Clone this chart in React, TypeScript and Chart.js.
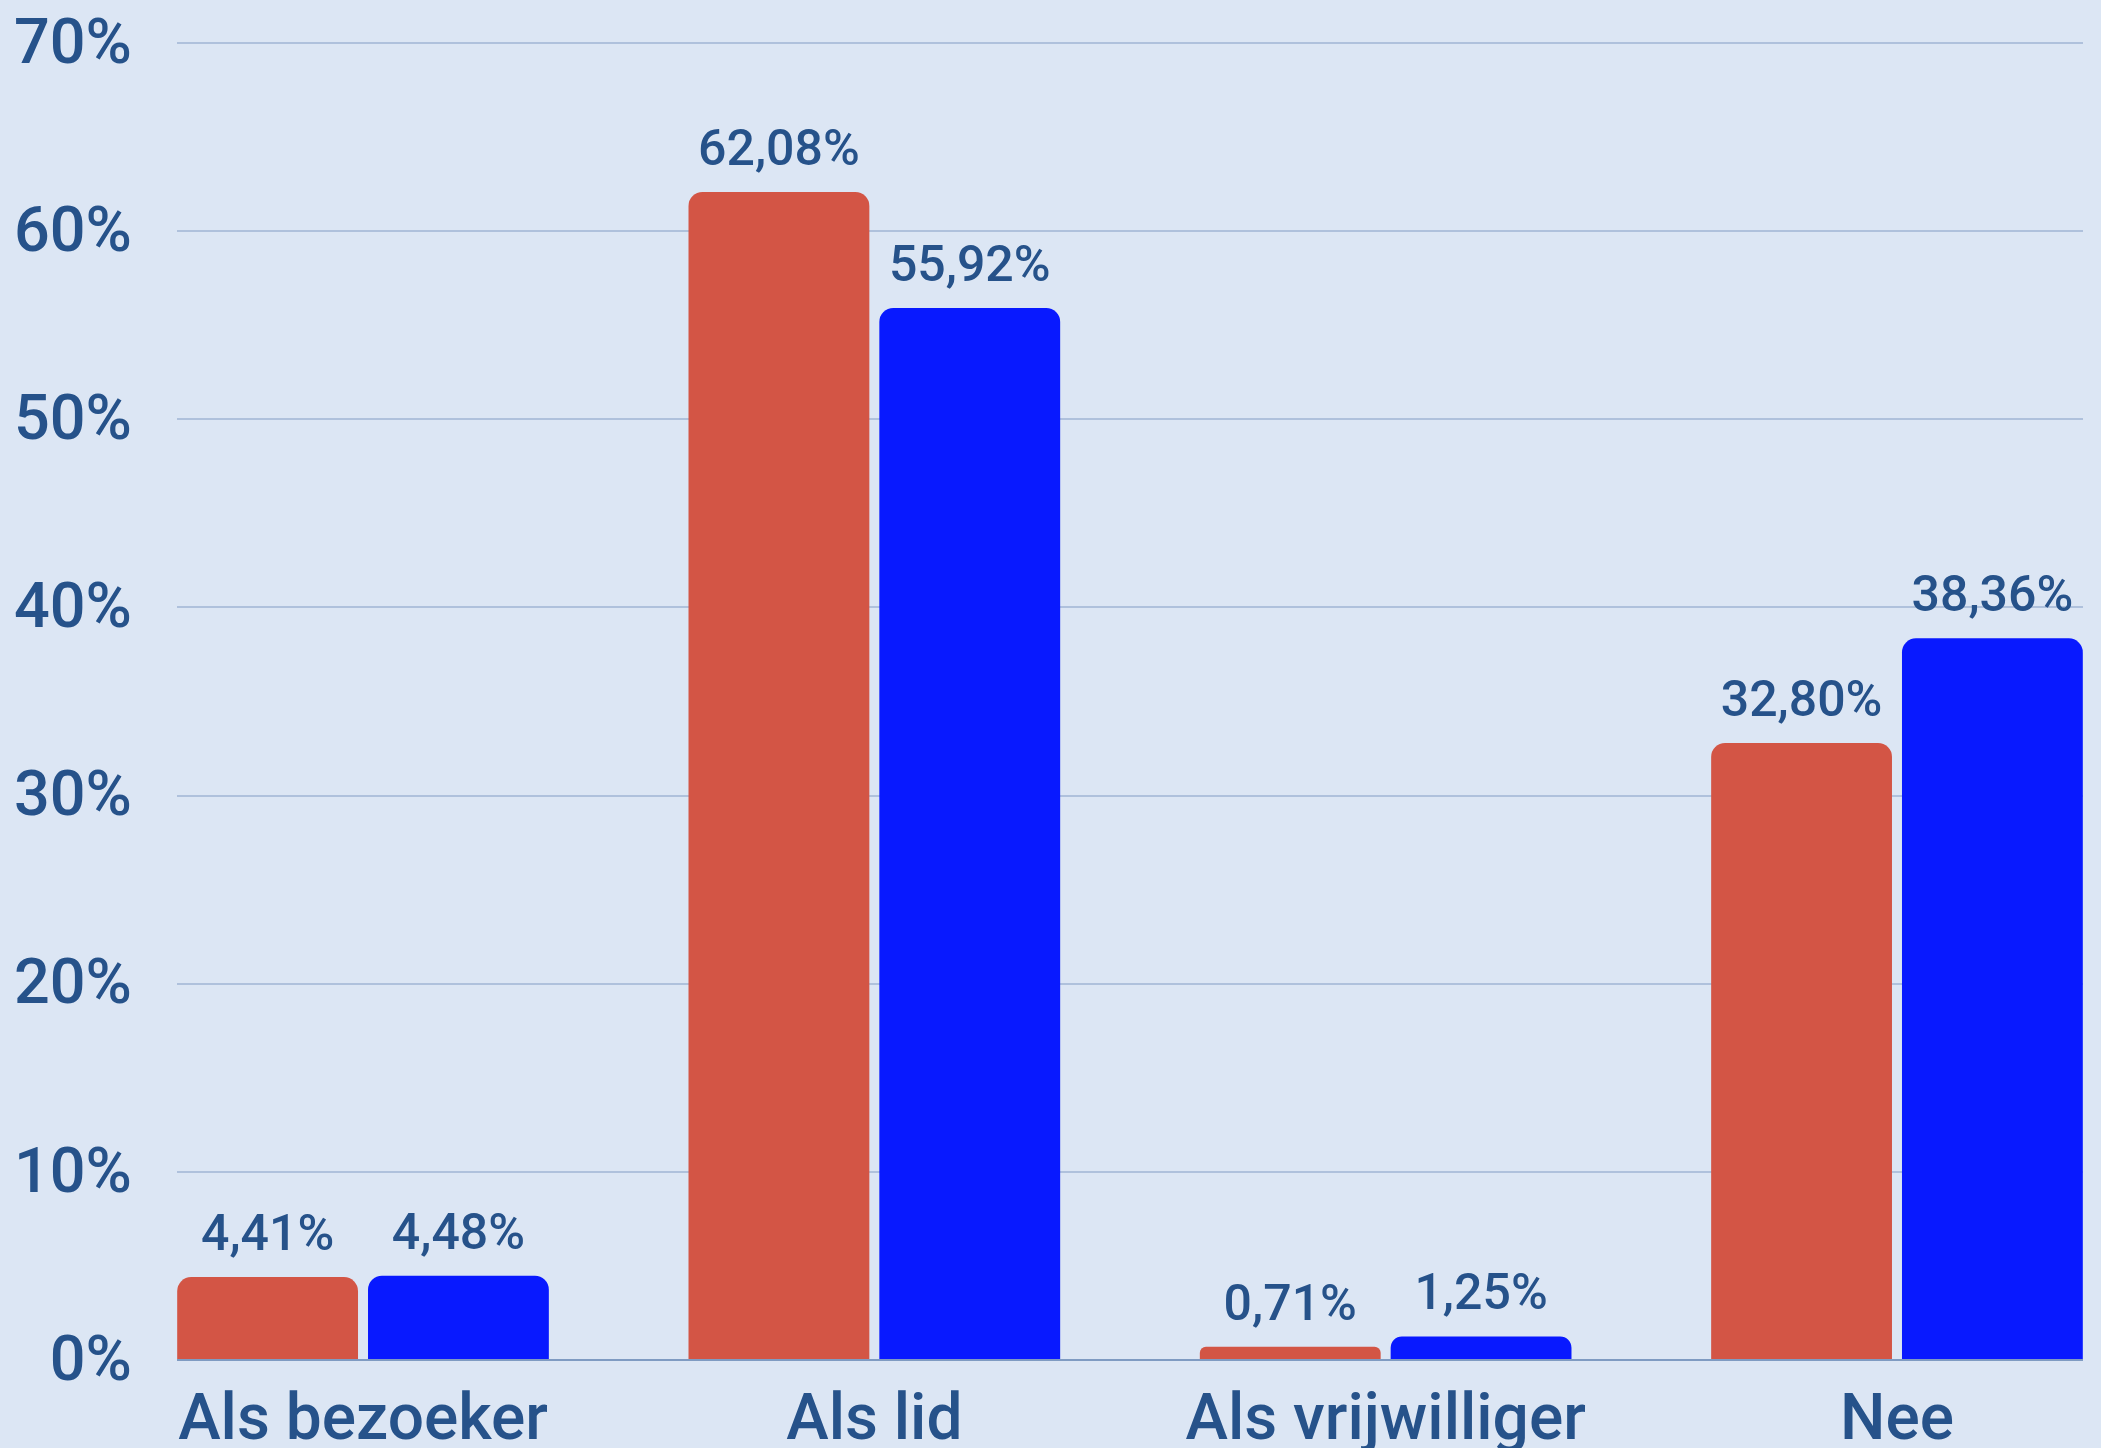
import React, { useEffect, useRef } from "react";
import { Chart, registerables } from "chart.js";

Chart.register(...registerables);

const categories = ["Als bezoeker", "Als lid", "Als vrijwilliger", "Nee"];
const seriesRed = [4.41, 62.08, 0.71, 32.8];
const seriesBlue = [4.48, 55.92, 1.25, 38.36];
const yTicks = [0, 10, 20, 30, 40, 50, 60, 70];

const BG = "#dce6f4";
const TEXT = "#26528a";
const RED = "#d35545";
const BLUE = "#0819ff";
const GRID = "#afc1dc";
const BASE = "#7f9bc2";
const FONT = "Roboto, 'Noto Sans', sans-serif";

const X_MIN = -0.3638;
const X_MAX = 3.3638;

const fmt = (v: number) => v.toFixed(2).replace(".", ",") + "%";

const valueLabels = {
  id: "valueLabels",
  afterDatasetsDraw(chart: any) {
    const ctx = chart.ctx;
    ctx.save();
    ctx.font = `500 50px ${FONT}`;
    ctx.fillStyle = TEXT;
    ctx.textAlign = "center";
    ctx.textBaseline = "alphabetic";
    chart.data.datasets.forEach((ds: any, di: number) => {
      const meta = chart.getDatasetMeta(di);
      meta.data.forEach((bar: any, i: number) => {
        const v = ds.data[i].y;
        ctx.fillText(fmt(v), bar.x, bar.y - 27);
      });
    });
    ctx.restore();
  },
};

export default function App() {
  const ref = useRef<HTMLCanvasElement | null>(null);

  useEffect(() => {
    document.body.style.margin = "0";
    document.body.style.background = BG;
    const canvas = ref.current!;
    const common = {
      borderRadius: { topLeft: 14, topRight: 14, bottomLeft: 0, bottomRight: 0 },
      borderSkipped: "start",
      categoryPercentage: 0.7464,
      barPercentage: 0.9476,
    };
    const chart = new Chart(canvas, {
      type: "bar",
      data: {
        datasets: [
          {
            label: "Rood",
            data: seriesRed.map((y, i) => ({ x: i, y })),
            backgroundColor: RED,
            ...common,
          },
          {
            label: "Blauw",
            data: seriesBlue.map((y, i) => ({ x: i, y })),
            backgroundColor: BLUE,
            ...common,
          },
        ],
      },
      options: {
        responsive: false,
        animation: false,
        devicePixelRatio: 1,
        layout: { padding: { top: 43, right: 18, left: 0, bottom: 0 } },
        plugins: {
          legend: { display: false },
          tooltip: { enabled: false },
        },
        scales: {
          x: {
            type: "linear",
            offset: false,
            bounds: "data",
            min: X_MIN,
            max: X_MAX,
            grid: { display: false, drawTicks: false, offset: false },
            border: { display: false },
            afterDataLimits: (scale: any) => {
              scale.min = X_MIN;
              scale.max = X_MAX;
            },
            afterBuildTicks: (scale: any) => {
              scale.ticks = categories.map((_, i) => ({ value: i }));
            },
            afterFit: (scale: any) => {
              scale.height = 88;
              scale.paddingLeft = 0;
              scale.paddingRight = 0;
            },
            ticks: {
              autoSkip: false,
              includeBounds: false,
              maxRotation: 0,
              padding: 25,
              color: TEXT,
              font: { family: FONT, size: 64, weight: "500" },
              callback: (v: any) => categories[v as number] ?? "",
            },
          },
          y: {
            min: 0,
            max: 70,
            afterBuildTicks: (scale: any) => {
              scale.ticks = yTicks.map((v) => ({ value: v }));
            },
            afterFit: (scale: any) => {
              scale.width = 177;
              scale.paddingTop = 0;
              scale.paddingBottom = 0;
            },
            grid: {
              drawTicks: false,
              lineWidth: 2,
              color: (c: any) => (c.tick && c.tick.value === 0 ? BASE : GRID),
            },
            border: { display: false },
            ticks: {
              padding: 45,
              labelOffset: 4,
              color: TEXT,
              font: { family: FONT, size: 63, weight: "500" },
              callback: (v: any) => v + "%",
            },
          },
        },
      },
      plugins: [valueLabels],
    } as any);
    return () => chart.destroy();
  }, []);

  return (
    <div style={{ position: "absolute", left: 0, top: 0, width: 2101, height: 1448, background: BG }}>
      <canvas ref={ref} width={2101} height={1448} style={{ width: 2101, height: 1448, display: "block" }} />
    </div>
  );
}
